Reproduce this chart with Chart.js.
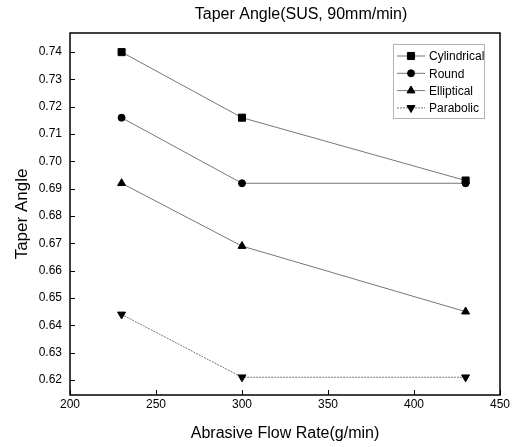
<!DOCTYPE html>
<html>
<head>
<meta charset="utf-8">
<script src="https://cdn.jsdelivr.net/npm/chart.js@4.4.1/dist/chart.umd.min.js"></script>
<style>
  html, body { margin: 0; padding: 0; background: #fff; }
  #wrap { width: 517px; height: 447px; }
</style>
</head>
<body>
<div id="wrap"><canvas id="chart"></canvas></div>
<script>
const flowRates = [230, 300, 430];
const cylindrical = [0.740, 0.716, 0.693];
const round = [0.716, 0.692, 0.692];
const elliptical = [0.692, 0.669, 0.645];
const parabolic = [0.644, 0.621, 0.621];
const seriesNames = ['Cylindrical', 'Round', 'Elliptical', 'Parabolic'];
const chartTitle = 'Taper Angle(SUS, 90mm/min)';

const FONT = 'Arial, "Liberation Sans", sans-serif';

function pts(values) {
  return values.map((v, i) => ({ x: flowRates[i], y: v }));
}

function makeSet(label, values, style, radius, rotation, dash) {
  return {
    label,
    data: pts(values),
    borderColor: '#777',
    borderWidth: 1,
    borderDash: dash || [],
    pointStyle: style,
    rotation: rotation || 0,
    pointRadius: radius,
    pointBackgroundColor: '#000',
    pointBorderColor: '#000',
    pointBorderWidth: 1,
    fill: false,
    tension: 0
  };
}

// title, inward ticks, frame and the legend inside the plot
const framePlugin = {
  id: 'frame',
  afterDraw(chart) {
    const ctx = chart.ctx;
    const a = chart.chartArea;
    const xs = chart.scales.x, ys = chart.scales.y;
    ctx.save();

    ctx.fillStyle = '#000';
    ctx.font = '16px ' + FONT;
    ctx.textAlign = 'center';
    ctx.textBaseline = 'middle';
    ctx.fillText(chartTitle, 301, 15);

    ctx.strokeStyle = '#000';
    ctx.lineWidth = 1.5;
    ctx.strokeRect(a.left, a.top, a.right - a.left, a.bottom - a.top);

    ctx.lineWidth = 1;
    ctx.beginPath();
    xs.ticks.forEach(t => {
      const px = Math.round(xs.getPixelForValue(t.value)) + 0.5;
      ctx.moveTo(px, a.bottom);
      ctx.lineTo(px, a.bottom - 5);
    });
    ys.ticks.forEach(t => {
      const py = Math.round(ys.getPixelForValue(t.value)) + 0.5;
      ctx.moveTo(a.left, py);
      ctx.lineTo(a.left + 5, py);
    });
    ctx.stroke();

    // legend box
    const bx = 393, by = 44, bw = 91, bh = 74;
    ctx.strokeStyle = '#666';
    ctx.setLineDash([1, 1]);
    ctx.strokeRect(bx + 0.5, by + 0.5, bw, bh);
    ctx.setLineDash([]);
    ctx.font = '12px ' + FONT;
    ctx.textBaseline = 'middle';
    ctx.textAlign = 'left';
    chart.data.datasets.forEach((ds, i) => {
      const cy = by + 12 + i * 17.3;
      ctx.strokeStyle = '#777';
      ctx.lineWidth = 1;
      ctx.setLineDash(ds.borderDash);
      ctx.beginPath();
      ctx.moveTo(bx + 4, cy);
      ctx.lineTo(bx + 32, cy);
      ctx.stroke();
      ctx.setLineDash([]);
      ctx.fillStyle = '#000';
      ctx.strokeStyle = '#000';
      Chart.helpers.drawPoint(ctx, {
        pointStyle: ds.pointStyle, rotation: ds.rotation, radius: ds.pointRadius, borderWidth: 1
      }, bx + 18, cy);
      ctx.fillText(ds.label, bx + 36, cy + 1);
    });
    ctx.restore();
  }
};

new Chart(document.getElementById('chart'), {
  type: 'line',
  data: {
    datasets: [
      makeSet(seriesNames[0], cylindrical, 'rect', 5),
      makeSet(seriesNames[1], round, 'circle', 3.5),
      makeSet(seriesNames[2], elliptical, 'triangle', 4.6),
      makeSet(seriesNames[3], parabolic, 'triangle', 4.6, 180, [2, 1])
    ]
  },
  options: {
    responsive: true,
    maintainAspectRatio: false,
    animation: false,
    layout: { padding: { left: 0, right: 17, top: 33, bottom: 0 } },
    plugins: {
      legend: { display: false },
      tooltip: { enabled: false },
      title: { display: false }
    },
    scales: {
      x: {
        type: 'linear',
        min: 200,
        max: 450,
        afterFit(s) { s.height = 52; },
        grid: { display: false, drawTicks: false },
        border: { display: false },
        ticks: {
          stepSize: 50,
          padding: 2,
          color: '#000',
          font: { family: FONT, size: 12 }
        },
        title: {
          display: true,
          text: 'Abrasive Flow Rate(g/min)',
          color: '#000',
          font: { family: FONT, size: 16 },
          padding: { top: 4, bottom: 4 }
        }
      },
      y: {
        type: 'linear',
        min: 0.6145,
        max: 0.747,
        afterFit(s) { s.width = 70; },
        afterBuildTicks(s) {
          s.ticks = [];
          for (let k = 62; k <= 74; k++) s.ticks.push({ value: k / 100 });
        },
        grid: { display: false, drawTicks: false },
        border: { display: false },
        ticks: {
          padding: 8,
          color: '#000',
          font: { family: FONT, size: 12 },
          callback: v => v.toFixed(2)
        },
        title: {
          display: true,
          text: 'Taper Angle',
          color: '#000',
          font: { family: FONT, size: 17 },
          padding: { top: 12, bottom: 0 }
        }
      }
    }
  },
  plugins: [framePlugin]
});
</script>
</body>
</html>
